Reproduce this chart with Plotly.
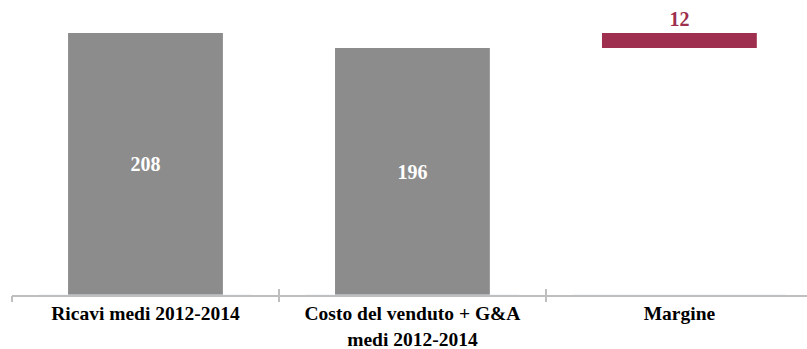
import plotly.graph_objects as go

categories = ["Ricavi medi 2012-2014", "Costo del venduto + G&A<br>medi 2012-2014", "Margine"]
values = [208, 196, 12]
bases = [0, 0, 196]
labels = ["208", "196", "12"]
colors = ["#8c8c8c", "#8c8c8c", "#9e2f4e"]
text_pos = ["inside", "inside", "outside"]
text_colors = ["white", "white", "#9e2f4e"]

fig = go.Figure()
fig.add_trace(go.Bar(
    x=categories, y=values, base=bases,
    marker=dict(color=colors, line=dict(width=0)),
    width=0.58,
    text=labels, textposition=text_pos,
    insidetextanchor="middle",
    textfont=dict(family="Liberation Serif", size=20, color=text_colors),
    outsidetextfont=dict(family="Liberation Serif", size=20, color="#9e2f4e"),
    cliponaxis=False,
    texttemplate="<b>%{text}</b>",
    showlegend=False,
))

fig.update_layout(
    width=807, height=349,
    margin=dict(l=12, r=0, t=20, b=54),
    plot_bgcolor="white", paper_bgcolor="white",
    xaxis=dict(
        type="category",
        range=[-0.5, 2.478],
        automargin=False,
        showline=True, linecolor="#bfbfbf", linewidth=2,
        ticks="inside", tickson="boundaries", ticklen=6, tickcolor="#bfbfbf", tickwidth=1.5,
        tickfont=dict(family="Liberation Serif", size=19.5, color="black"),
        ticklabelstandoff=0,
        tickprefix="<b>", ticksuffix="</b>",
        showgrid=False,
    ),
    xaxis2=dict(
        type="category", overlaying="x", matches="x", side="bottom",
        range=[-0.5, 2.478], automargin=False,
        ticks="outside", tickson="boundaries", ticklen=6, tickcolor="#bfbfbf", tickwidth=1.5,
        showticklabels=False, showline=False, showgrid=False,
        categoryarray=categories, categoryorder="array",
    ),
    yaxis=dict(range=[0, 218.3], visible=False, showgrid=False, automargin=False),
)
fig.add_trace(go.Bar(x=categories, y=[0, 0, 0], xaxis="x2", showlegend=False, hoverinfo="skip",
                     marker=dict(color="rgba(0,0,0,0)")))

fig.write_html("out.html")
